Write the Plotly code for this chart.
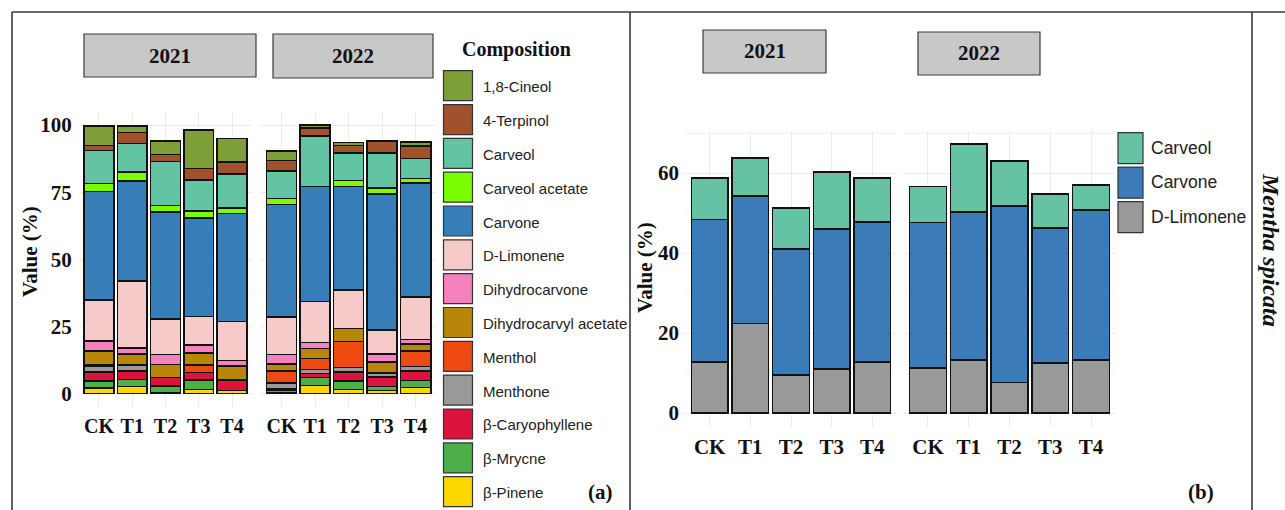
import plotly.graph_objects as go

W, H = 1285, 510

# ---------------- data ----------------
treatments = ["CK", "T1", "T2", "T3", "T4"]

# panel (a): full essential-oil composition, stacked bottom -> top
compounds = [
    "β-Pinene", "β-Mrycne", "β-Caryophyllene", "Menthone", "Menthol",
    "Dihydrocarvyl acetate", "Dihydrocarvone", "D-Limonene", "Carvone",
    "Carveol acetate", "Carveol", "4-Terpinol", "1,8-Cineol",
]
comp_colors = [
    "#FFD700", "#4DAF4A", "#DC143C", "#999999", "#EE4A12",
    "#B8860B", "#F781BF", "#F7CACA", "#377EB8",
    "#7CFC00", "#62C4A3", "#A0522D", "#7E9F38",
]

pinene_2021 = [2.0, 2.7, 0.3, 1.5, 1.2]
myrcene_2021 = [2.7, 2.5, 2.5, 3.5, 0.0]
caryophyllene_2021 = [3.4, 3.2, 3.1, 2.9, 3.7]
menthone_2021 = [2.2, 2.1, 0.0, 0.0, 0.0]
menthol_2021 = [0.4, 0.3, 0.0, 2.7, 0.4]
dh_acetate_2021 = [5.2, 4.0, 5.0, 4.6, 5.0]
dihydrocarvone_2021 = [3.7, 2.2, 3.7, 2.9, 2.1]
limonene_2021 = [15.3, 24.9, 13.1, 10.6, 14.4]
carvone_2021 = [40.4, 37.3, 39.9, 36.7, 40.3]
carveol_acetate_2021 = [2.9, 3.4, 2.4, 2.5, 2.0]
carveol_2021 = [12.3, 10.6, 16.5, 11.6, 12.7]
terpinol_2021 = [1.9, 4.0, 2.5, 4.4, 4.4]
cineol_2021 = [7.2, 2.5, 5.0, 14.3, 8.7]

pinene_2022 = [0.3, 3.1, 1.5, 1.2, 2.2]
myrcene_2022 = [1.0, 2.9, 3.2, 1.5, 2.7]
caryophyllene_2022 = [0.6, 1.5, 3.4, 3.5, 3.5]
menthone_2022 = [2.0, 1.5, 1.6, 1.5, 1.7]
menthol_2022 = [4.5, 4.1, 9.6, 0.0, 5.7]
dh_acetate_2022 = [2.6, 3.7, 5.0, 4.1, 2.7]
dihydrocarvone_2022 = [3.6, 2.2, 0.0, 2.9, 1.7]
limonene_2022 = [14.0, 15.2, 14.3, 9.0, 15.7]
carvone_2022 = [41.8, 42.9, 38.6, 50.7, 42.5]
carveol_acetate_2022 = [2.2, 0.0, 2.2, 2.1, 1.6]
carveol_2022 = [10.2, 18.9, 10.2, 13.1, 7.5]
terpinol_2022 = [4.0, 2.9, 2.7, 4.4, 4.6]
cineol_2022 = [3.5, 1.2, 1.2, 0.0, 1.6]

comp_2021 = [pinene_2021, myrcene_2021, caryophyllene_2021, menthone_2021,
             menthol_2021, dh_acetate_2021, dihydrocarvone_2021, limonene_2021,
             carvone_2021, carveol_acetate_2021, carveol_2021, terpinol_2021,
             cineol_2021]
comp_2022 = [pinene_2022, myrcene_2022, caryophyllene_2022, menthone_2022,
             menthol_2022, dh_acetate_2022, dihydrocarvone_2022, limonene_2022,
             carvone_2022, carveol_acetate_2022, carveol_2022, terpinol_2022,
             cineol_2022]

# panel (b): three main constituents
main_compounds = ["D-Limonene", "Carvone", "Carveol"]
main_colors = ["#999999", "#3A7BB8", "#66C2A5"]
main_limonene_2021 = [12.8, 22.4, 9.5, 11.0, 12.8]
main_carvone_2021 = [35.6, 31.9, 31.5, 35.0, 35.0]
main_carveol_2021 = [10.4, 9.4, 10.3, 14.3, 11.0]
main_limonene_2022 = [11.3, 13.2, 7.6, 12.5, 13.2]
main_carvone_2022 = [36.3, 37.1, 44.2, 33.7, 37.5]
main_carveol_2022 = [9.0, 16.9, 11.2, 8.6, 6.3]
main_2021 = [main_limonene_2021, main_carvone_2021, main_carveol_2021]
main_2022 = [main_limonene_2022, main_carvone_2022, main_carveol_2022]

years = ["2021", "2022"]

# ---------------- helpers ----------------
SERIF = "Liberation Serif"
SANS = "Liberation Sans"


def px(x):
    return x / W


def py(y):
    return 1 - y / H


fig = go.Figure()

# panel (a) bars
for xa, ya, data in (("x", "y", comp_2021), ("x2", "y2", comp_2022)):
    for name, col, vals in zip(compounds, comp_colors, data):
        fig.add_trace(go.Bar(
            x=treatments, y=vals, name=name, xaxis=xa, yaxis=ya,
            marker=dict(color=col, line=dict(color="#111111", width=1.5)),
            showlegend=False,
        ))

# panel (b) bars
for xa, ya, data in (("x3", "y3", main_2021), ("x4", "y4", main_2022)):
    for name, col, vals in zip(main_compounds, main_colors, data):
        fig.add_trace(go.Bar(
            x=treatments, y=vals, name=name, xaxis=xa, yaxis=ya,
            marker=dict(color=col, line=dict(color="#111111", width=1.5)),
            showlegend=False,
        ))

grid = "#EBEBEB"
xcommon = dict(
    type="category", range=[-0.6, 4.6], showgrid=True, gridcolor=grid,
    gridwidth=1, zeroline=False, showline=False, ticks="outside",
    ticklen=1, tickcolor="rgba(0,0,0,0)",
    tickfont=dict(family=SERIF, size=20, color="#111111", weight="bold"),
)
ya_common = dict(
    range=[-5, 105], domain=[py(407), py(111.6)], showgrid=True,
    gridcolor=grid, gridwidth=1, zeroline=False, showline=False,
    tickvals=[0, 25, 50, 75, 100],
    minor=dict(tickvals=[12.5, 37.5, 62.5, 87.5], showgrid=True,
               gridcolor="#F3F3F3", gridwidth=0.6),
)
yb_common = dict(
    range=[-3.4, 70.6], domain=[py(426.6), py(130.6)], showgrid=True,
    gridcolor=grid, gridwidth=1, zeroline=False, showline=False,
    tickvals=[0, 20, 40, 60],
    minor=dict(tickvals=[10, 30, 50, 70], showgrid=True,
               gridcolor="#F3F3F3", gridwidth=0.6),
)
ytick_font = dict(family=SERIF, size=21, color="#111111", weight="bold")

fig.update_layout(
    width=W, height=H, margin=dict(l=0, r=0, t=0, b=0),
    paper_bgcolor="white", plot_bgcolor="white",
    barmode="stack", bargap=0.1, showlegend=False,
    xaxis=dict(xcommon, domain=[px(79), px(252)], anchor="y"),
    xaxis2=dict(xcommon, domain=[px(261.4), px(435.8)], anchor="y2"),
    xaxis3=dict(xcommon, domain=[px(685.3), px(896.7)], anchor="y3",
                tickfont=dict(family=SERIF, size=21, color="#111111", weight="bold")),
    xaxis4=dict(xcommon, domain=[px(903.5), px(1115.5)], anchor="y4",
                tickfont=dict(family=SERIF, size=21, color="#111111", weight="bold")),
    yaxis=dict(ya_common, anchor="x", tickfont=ytick_font, ticks="outside",
               ticklen=2, tickcolor="rgba(0,0,0,0)"),
    yaxis2=dict(ya_common, anchor="x2", showticklabels=False),
    yaxis3=dict(yb_common, anchor="x3", tickfont=ytick_font, ticks="outside",
                ticklen=1, tickcolor="rgba(0,0,0,0)"),
    yaxis4=dict(yb_common, anchor="x4", showticklabels=False),
)

shapes = []
annotations = []

# outer frame and panel dividers
frame = dict(type="line", xref="paper", yref="paper",
             line=dict(color="#3A3A3A", width=1.6))
shapes.append(dict(frame, x0=px(12), x1=1, y0=py(12), y1=py(12)))
for xv in (12, 630, 1252):
    shapes.append(dict(frame, x0=px(xv), x1=px(xv), y0=py(12), y1=0))

# facet strips
strips = [
    (84, 256, 34, 77, "2021"), (273, 433, 34, 78, "2022"),
    (703, 826, 30, 73, "2021"), (918, 1040, 32, 75, "2022"),
]
for x0, x1, y0, y1, label in strips:
    shapes.append(dict(type="rect", xref="paper", yref="paper",
                       x0=px(x0), x1=px(x1), y0=py(y1), y1=py(y0),
                       fillcolor="#C8C8C8", line=dict(color="#3A3A3A", width=1.2)))
    annotations.append(dict(x=px((x0 + x1) / 2), y=py((y0 + y1) / 2),
                            xref="paper", yref="paper", text=label,
                            showarrow=False, xanchor="center", yanchor="middle",
                            font=dict(family=SERIF, size=21, color="#111111",
                                      weight="bold")))

# y-axis titles
for xc, yc in ((30, 252), (645, 268)):
    annotations.append(dict(x=px(xc), y=py(yc), xref="paper", yref="paper",
                            text="Value (%)", textangle=-90, showarrow=False,
                            xanchor="center", yanchor="middle",
                            font=dict(family=SERIF, size=21, color="#111111",
                                      weight="bold")))

# legend for panel (a), listed top -> bottom
annotations.append(dict(x=px(516), y=py(50), xref="paper", yref="paper",
                        text="Composition", showarrow=False, xanchor="center",
                        yanchor="middle",
                        font=dict(family=SERIF, size=20, color="#111111",
                                  weight="bold")))
leg_names = compounds[::-1]
leg_cols = comp_colors[::-1]
for i, (nm, col) in enumerate(zip(leg_names, leg_cols)):
    top = 70.7 + i * 33.83
    shapes.append(dict(type="rect", xref="paper", yref="paper",
                       x0=px(443.5), x1=px(472.5), y0=py(top + 30), y1=py(top),
                       fillcolor=col, line=dict(color="#333333", width=1.2)))
    annotations.append(dict(x=px(481), y=py(top + 16), xref="paper",
                            yref="paper", text=nm, showarrow=False,
                            xanchor="left", yanchor="middle",
                            font=dict(family=SANS, size=15, color="#222222")))

# legend for panel (b), listed top -> bottom
for i, (nm, col) in enumerate(zip(main_compounds[::-1], main_colors[::-1])):
    top = 132.7 + i * 34.5
    shapes.append(dict(type="rect", xref="paper", yref="paper",
                       x0=px(1118), x1=px(1143), y0=py(top + 31), y1=py(top),
                       fillcolor=col, line=dict(color="#333333", width=1.2)))
    annotations.append(dict(x=px(1149), y=py(top + 15), xref="paper",
                            yref="paper", text=nm, showarrow=False,
                            xanchor="left", yanchor="middle",
                            font=dict(family=SANS, size=17.5, color="#222222")))

# panel tags
for xc, tag in ((600, "(a)"), (1201, "(b)")):
    annotations.append(dict(x=px(xc), y=py(492), xref="paper", yref="paper",
                            text=tag, showarrow=False, xanchor="center",
                            yanchor="middle",
                            font=dict(family=SERIF, size=21, color="#111111",
                                      weight="bold")))

# species label on the right strip
annotations.append(dict(x=px(1271), y=py(250), xref="paper", yref="paper",
                        text="<i>Mentha spicata</i>", textangle=90,
                        showarrow=False, xanchor="center", yanchor="middle",
                        font=dict(family=SERIF, size=24, color="#111111",
                                  weight="bold")))

fig.update_layout(shapes=shapes, annotations=annotations)
fig.write_html("out.html")
